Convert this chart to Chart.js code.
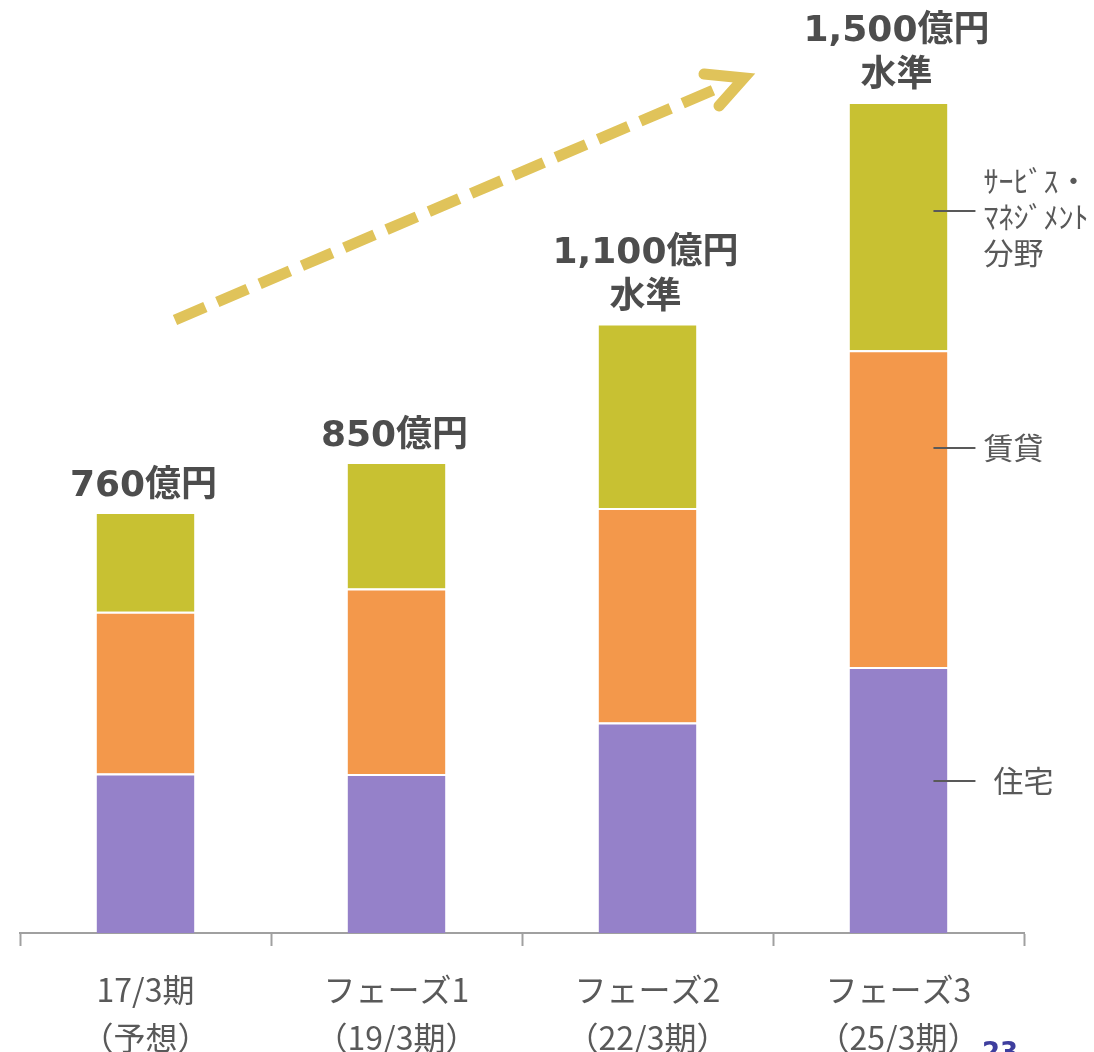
<!DOCTYPE html>
<html lang="ja">
<head>
<meta charset="utf-8">
<script src="https://cdn.jsdelivr.net/npm/chart.js@4/dist/chart.umd.min.js"></script>
<style>
  html, body { margin: 0; padding: 0; background: #ffffff; }
  #wrap { width: 1094px; height: 1052px; position: relative; }
</style>
</head>
<body>
<div id="wrap"><canvas id="chart"></canvas></div>
<script>
// Periods on the x axis (two lines each)
const categories = [
  ["17/3期", "（予想）"],
  ["フェーズ1", "（19/3期）"],
  ["フェーズ2", "（22/3期）"],
  ["フェーズ3", "（25/3期）"]
];

// Revenue by segment, 億円
const housing = [288, 287, 380, 480];   // 住宅
const rental  = [292, 335, 387, 572];   // 賃貸
const service = [180, 228, 333, 448];   // サービス・マネジメント分野

// Targets shown as "…水準"
const levelTarget = [false, false, true, true];

// Segment names shown beside the last bar
const segmentNames = [["住宅"], ["賃貸"], ["ｻｰﾋﾞｽ・", "ﾏﾈｼﾞﾒﾝﾄ", "分野"]];

const COLORS = { housing: "#9581c9", rental: "#f3984b", service: "#c8c132" };
const CJK = "'Noto Sans CJK JP', 'Noto Sans', sans-serif";
const BOLD_NUM = "'DejaVu Sans', 'Noto Sans CJK JP', sans-serif";

const totals = housing.map((v, i) => v + rental[i] + service[i]);

const overlay = {
  id: "overlay",
  afterDatasetsDraw(chart) {
    const ctx = chart.ctx;
    const metas = [0, 1, 2].map(i => chart.getDatasetMeta(i));

    // Growth arrow (dashed) across the upper left
    ctx.save();
    const x0 = 175, y0 = 320, x1 = 716, y1 = 89;
    ctx.strokeStyle = "#e0c35a";
    ctx.lineWidth = 11;
    ctx.setLineDash([33, 13]);
    ctx.lineCap = "butt";
    ctx.beginPath();
    ctx.moveTo(x0, y0);
    ctx.lineTo(x1, y1);
    ctx.stroke();
    ctx.setLineDash([]);
    ctx.lineCap = "round";
    ctx.lineJoin = "miter";
    ctx.miterLimit = 10;
    ctx.beginPath();
    ctx.moveTo(704, 74);
    ctx.lineTo(744, 78);
    ctx.lineTo(719, 106);
    ctx.stroke();
    ctx.restore();

    // Total labels above each bar
    ctx.save();
    ctx.fillStyle = "#4d4d4d";
    ctx.textAlign = "center";
    ctx.textBaseline = "alphabetic";
    ctx.font = "bold 36px " + BOLD_NUM;
    totals.forEach((t, i) => {
      const top = metas[2].data[i];
      const lines = [t.toLocaleString("en-US") + "億円"];
      if (levelTarget[i]) lines.push("水準");
      const lh = 45;
      const base = top.y - 16 - (lines.length - 1) * lh;
      lines.forEach((s, k) => {
        ctx.fillText(s, top.x - 2, base + k * lh);
      });
    });
    ctx.restore();

    // Segment names with leader lines beside the last bar
    ctx.save();
    const last = categories.length - 1;
    const fracs = [0.43, 0.31, 0.44];
    const textOffset = [46, 36, 36];
    ctx.strokeStyle = "#595959";
    ctx.fillStyle = "#595959";
    ctx.lineWidth = 2;
    ctx.font = "30px " + CJK;
    ctx.textAlign = "left";
    ctx.textBaseline = "middle";
    metas.forEach((m, d) => {
      const el = m.data[last];
      const top = Math.min(el.y, el.base), bot = Math.max(el.y, el.base);
      const y = Math.round(top + (bot - top) * fracs[d]);
      const xr = el.x + el.width / 2;
      ctx.beginPath();
      ctx.moveTo(xr - 14, y);
      ctx.lineTo(xr + 28, y);
      ctx.stroke();
      const names = segmentNames[d];
      const lh = 36;
      const startY = y - (names.length - 1) * lh / 2 + (names.length > 1 ? 6 : 0);
      names.forEach((s, k) => {
        ctx.fillText(s, xr + textOffset[d], startY + k * lh);
      });
    });
    ctx.restore();

    // Page number at the lower right edge
    ctx.save();
    ctx.fillStyle = "#3e3e9e";
    ctx.font = "bold 26px " + BOLD_NUM;
    ctx.textAlign = "left";
    ctx.textBaseline = "top";
    ctx.fillText("23", 982, 1041);
    ctx.restore();
  }
};

new Chart(document.getElementById("chart"), {
  type: "bar",
  data: {
    labels: categories,
    datasets: [
      { label: "住宅", data: housing, backgroundColor: COLORS.housing },
      { label: "賃貸", data: rental, backgroundColor: COLORS.rental },
      { label: "サービス・マネジメント分野", data: service, backgroundColor: COLORS.service }
    ].map(ds => Object.assign(ds, {
      borderColor: "#ffffff",
      borderWidth: { top: 2, bottom: 0, left: 0, right: 0 },
      borderSkipped: false,
      categoryPercentage: 1.0,
      barPercentage: 0.39
    }))
  },
  options: {
    responsive: true,
    maintainAspectRatio: false,
    animation: false,
    layout: { padding: { left: 20, right: 70, top: 0, bottom: 0 } },
    plugins: { legend: { display: false }, tooltip: { enabled: false } },
    scales: {
      x: {
        stacked: true,
        offset: true,
        border: { display: true, color: "#a0a0a0", width: 2 },
        grid: {
          offset: true,
          drawOnChartArea: false,
          drawTicks: true,
          tickLength: 13,
          tickWidth: 2,
          tickColor: "#a0a0a0"
        },
        ticks: {
          color: "#595959",
          font: { family: CJK, size: 32, lineHeight: 1.5 },
          padding: 20,
          maxRotation: 0,
          autoSkip: false
        },
        afterFit(scale) { scale.height = 119; }
      },
      y: {
        stacked: true,
        display: false,
        min: 0,
        max: 1684
      }
    }
  },
  plugins: [overlay]
});
</script>
</body>
</html>
